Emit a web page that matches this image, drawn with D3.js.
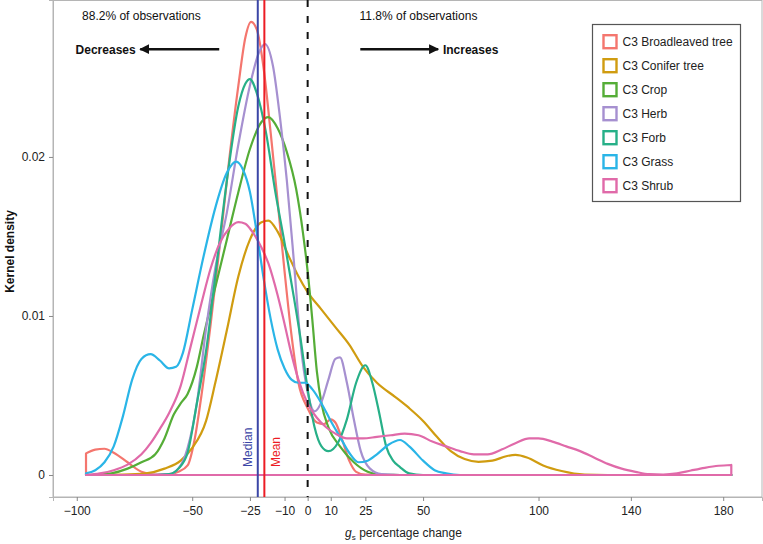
<!DOCTYPE html>
<html><head><meta charset="utf-8">
<script src="https://cdn.jsdelivr.net/npm/d3@7"></script>
<style>
html,body{margin:0;padding:0;background:#fff;}
svg{display:block;font-family:"Liberation Sans",Arial,Helvetica,sans-serif;}
</style></head>
<body>
<svg id="chart" width="763" height="544"></svg>
<script>
// ---------- data ----------
const categories = ["C3 Broadleaved tree","C3 Conifer tree","C3 Crop","C3 Herb","C3 Forb","C3 Grass","C3 Shrub"];
const colors = ["#F4766E","#D09C10","#55AD37","#A690D0","#27B088","#2AB5E7","#E06AA9"];

const broadleaved = [[-96,0.00136],[-92,0.0016],[-88,0.00165],[-84,0.0014],[-78,0.0008],[-72,0.0002],[-66,0.00003],[-60,0.00005],[-56,0.0002],[-52,0.0006],[-49,0.0022],[-46,0.005],[-42,0.0095],[-38,0.0145],[-34,0.0198],[-30,0.0245],[-27,0.0275],[-24.5,0.0285],[-22,0.0280],[-19,0.0255],[-16,0.0215],[-13,0.0172],[-10,0.0128],[-7,0.0088],[-4,0.0058],[0,0.0042],[4,0.0033],[7,0.0032],[10,0.0035],[12,0.0033],[15,0.0022],[18,0.0009],[21,0.0002],[25,0.00002],[35,0],[183.5,0]];
const conifer = [[-96,0],[-80,0.00002],[-70,0.0001],[-62,0.0004],[-55,0.0009],[-50,0.0017],[-44,0.0034],[-40,0.0058],[-35,0.0091],[-30,0.0125],[-25,0.0148],[-20,0.0159],[-17,0.016],[-13,0.0153],[-8,0.0137],[-4,0.0125],[0,0.0115],[6,0.0104],[12,0.0093],[18,0.0082],[24,0.0068],[30,0.0058],[38,0.0049],[44,0.0042],[50,0.0034],[56,0.0024],[62,0.0015],[68,0.001],[74,0.00083],[80,0.0009],[86,0.00118],[90,0.00126],[95,0.0011],[102,0.0006],[110,0.00025],[120,0.00003],[130,0],[183.5,0]];
const crop = [[-96,0],[-90,0.00003],[-85,0.0001],[-78,0.0004],[-72,0.0008],[-66,0.0013],[-62,0.0023],[-58,0.0038],[-55,0.0045],[-52,0.0051],[-48,0.0068],[-45,0.0088],[-40,0.0118],[-35,0.0148],[-30,0.0178],[-25,0.0205],[-20,0.0222],[-17,0.0225],[-13,0.0218],[-9,0.0203],[-5,0.018],[-2,0.0152],[0,0.0128],[2,0.0098],[4,0.0065],[6,0.0045],[9,0.003],[14,0.0018],[20,0.0008],[26,0.0002],[32,0.00001],[40,0],[183.5,0]];
const herb = [[-96,0],[-70,0],[-60,0.00005],[-56,0.0004],[-52,0.0017],[-48,0.0045],[-44,0.0092],[-40,0.013],[-35,0.0165],[-30,0.0208],[-25,0.0245],[-21,0.0266],[-18.5,0.0271],[-15,0.0257],[-12,0.0225],[-9,0.0185],[-6,0.0135],[-3,0.0082],[0,0.0052],[3,0.004],[6,0.0046],[9,0.006],[12,0.0073],[14,0.0074],[17,0.0058],[20,0.0035],[23,0.0015],[27,0.0004],[32,0.00005],[40,0],[183.5,0]];
const forb = [[-96,0],[-65,0],[-60,0.00005],[-56,0.0004],[-52,0.0014],[-48,0.0045],[-44,0.0078],[-40,0.0125],[-35,0.0185],[-30,0.0232],[-27,0.0246],[-25,0.0249],[-22,0.024],[-18,0.0215],[-14,0.0178],[-10,0.0146],[-6,0.0112],[-3,0.0085],[0,0.0054],[3,0.003],[6,0.0018],[9,0.0015],[13,0.002],[17,0.0035],[21,0.0058],[25,0.0069],[28,0.0058],[31,0.0039],[34,0.0018],[37,0.0009],[40,0.0005],[44,0.0001],[50,0],[183.5,0]];
const grass = [[-96,0.0001],[-92,0.0003],[-88,0.0008],[-84,0.0018],[-80,0.0037],[-76,0.006],[-72,0.0073],[-68,0.0076],[-64,0.0072],[-60,0.0067],[-57,0.0068],[-54,0.0077],[-50,0.0104],[-45,0.0138],[-40,0.0168],[-35,0.019],[-31,0.0197],[-28,0.0192],[-25,0.0178],[-22,0.0152],[-19,0.0123],[-16,0.0098],[-13,0.0079],[-10,0.0067],[-7,0.006],[-4,0.0058],[-1,0.0058],[2,0.0054],[6,0.0045],[10,0.0034],[14,0.0024],[18,0.0014],[22,0.0008],[26,0.0009],[30,0.0013],[35,0.0019],[40,0.0022],[44,0.0018],[50,0.0009],[55,0.0003],[60,0.0001],[66,0],[183.5,0]];
const shrub = [[-96,0],[-90,0.0001],[-84,0.0003],[-78,0.00065],[-72,0.0013],[-68,0.002],[-64,0.0029],[-60,0.0039],[-55,0.0056],[-51,0.0079],[-46,0.0108],[-42,0.013],[-38,0.0146],[-34,0.0155],[-30,0.0159],[-27,0.0158],[-24,0.0153],[-20,0.0143],[-17,0.0133],[-13,0.0113],[-10,0.0095],[-7,0.0076],[-4,0.006],[0,0.0045],[4,0.0036],[8,0.003],[12,0.0026],[17,0.0023],[24,0.0023],[30,0.0024],[36,0.0025],[42,0.0026],[48,0.0025],[54,0.0021],[60,0.0018],[66,0.0015],[72,0.0013],[78,0.0013],[84,0.0016],[90,0.002],[96,0.0023],[100,0.0023],[106,0.0021],[112,0.0018],[118,0.0015],[124,0.0011],[130,0.0007],[136,0.0004],[142,0.0002],[148,0.00005],[154,0.00003],[160,0.0001],[166,0.00028],[172,0.00045],[178,0.00058],[183.5,0.00063]];
const seriesData = [broadleaved, conifer, crop, herb, forb, grass, shrub];

const xTicks = [-100,-50,-25,-10,0,10,25,50,100,140,180];
const yTicks = [0,0.01,0.02];
const medianValue = -21.6;
const meanValue = -18.75;
const leftShare = "88.2% of observations";
const rightShare = "11.8% of observations";

// ---------- layout ----------
const svg = d3.select("#chart");
const P = {l:53, r:762, t:0, b:497};
const x = d3.scaleLinear().domain([-110.3, 196.8]).range([P.l, P.r]);
const y = d3.scaleLinear().domain([-0.001384, 0.02987]).range([P.b, P.t]);

// panel border
svg.append("rect").attr("x",P.l).attr("y",P.t+0.5).attr("width",P.r-P.l).attr("height",P.b-P.t-0.5)
  .attr("fill","none").attr("stroke","#b5b5b5").attr("stroke-width",1);

// axes
const fmtX = d => d < 0 ? "\u2212" + Math.abs(d) : String(d);
const xAxis = svg.append("g").attr("transform",`translate(0,${P.b})`)
  .call(d3.axisBottom(x).tickValues(xTicks).tickFormat(fmtX).tickSize(4).tickPadding(5));
const yAxis = svg.append("g").attr("transform",`translate(${P.l},0)`)
  .call(d3.axisLeft(y).tickValues(yTicks).tickFormat(d => d===0 ? "0" : d3.format(".2f")(d)).tickSize(4).tickPadding(4));
[xAxis,yAxis].forEach(g=>{
  g.select(".domain").attr("stroke","#b5b5b5");
  g.selectAll(".tick line").attr("stroke","#888");
  g.selectAll(".tick text").attr("fill","#222").style("font-size","12px").style("font-family","'Liberation Sans',Arial,sans-serif");
});

// density outlines
const area = d3.area().x(d=>x(d[0])).y0(y(0)).y1(d=>y(d[1])).curve(d3.curveMonotoneX);
seriesData.forEach((s,i)=>{
  svg.append("path").attr("d",area(s)).attr("fill","none").attr("stroke",colors[i])
    .attr("stroke-width",2.2).attr("stroke-linejoin","round");
});

// median / mean / zero lines
svg.append("line").attr("x1",x(medianValue)).attr("x2",x(medianValue)).attr("y1",P.t).attr("y2",P.b)
  .attr("stroke","#3B46A6").attr("stroke-width",2);
svg.append("line").attr("x1",x(meanValue)).attr("x2",x(meanValue)).attr("y1",P.t).attr("y2",P.b)
  .attr("stroke","#EC1C24").attr("stroke-width",2);
svg.append("line").attr("x1",x(0)).attr("x2",x(0)).attr("y1",P.t).attr("y2",P.b)
  .attr("stroke","#111").attr("stroke-width",2).attr("stroke-dasharray","7,9");

svg.append("text").attr("transform",`translate(${x(medianValue)-5.5},${y(0)-8}) rotate(-90)`)
  .attr("fill","#3B46A6").style("font-size","12px").text("Median");
svg.append("text").attr("transform",`translate(${x(meanValue)+16},${y(0)-8}) rotate(-90)`)
  .attr("fill","#EC1C24").style("font-size","12px").text("Mean");

// annotations
svg.append("text").attr("x",x(-72)).attr("y",y(0.02862)).attr("text-anchor","middle")
  .style("font-size","12px").attr("fill","#111").text(leftShare);
svg.append("text").attr("x",x(48)).attr("y",y(0.02862)).attr("text-anchor","middle")
  .style("font-size","12px").attr("fill","#111").text(rightShare);
svg.append("text").attr("x",x(-87.5)).attr("y",y(0.02648)).attr("text-anchor","middle")
  .style("font-size","12px").style("font-weight","bold").attr("fill","#111").text("Decreases");
svg.append("text").attr("x",x(70.6)).attr("y",y(0.02648)).attr("text-anchor","middle")
  .style("font-size","12px").style("font-weight","bold").attr("fill","#111").text("Increases");

const defs = svg.append("defs");
defs.append("marker").attr("id","ah").attr("viewBox","0 0 10 10").attr("refX",9).attr("refY",5)
  .attr("markerWidth",4).attr("markerHeight",4).attr("orient","auto-start-reverse").attr("markerUnits","strokeWidth")
  .append("path").attr("d","M0,0 L10,5 L0,10 z").attr("fill","#111");
const ay = y(0.02678);
svg.append("line").attr("x1",x(-38.3)).attr("x2",x(-72.5)).attr("y1",ay).attr("y2",ay)
  .attr("stroke","#111").attr("stroke-width",2.5).attr("marker-end","url(#ah)");
svg.append("line").attr("x1",x(22.8)).attr("x2",x(56.5)).attr("y1",ay).attr("y2",ay)
  .attr("stroke","#111").attr("stroke-width",2.5).attr("marker-end","url(#ah)");

// axis titles
const xt = svg.append("text").attr("x",403.5).attr("y",537).attr("text-anchor","middle")
  .style("font-size","12px").attr("fill","#222");
xt.append("tspan").style("font-style","italic").text("g");
xt.append("tspan").attr("dy",3).style("font-size","8px").text("s");
xt.append("tspan").attr("dy",-3).text(" percentage change");

svg.append("text").attr("transform",`translate(14,${(P.t+P.b)/2+3}) rotate(-90)`).attr("text-anchor","middle")
  .style("font-size","12px").style("font-weight","bold").attr("fill","#111").text("Kernel density");

// legend
const lg = svg.append("g");
lg.append("rect").attr("x",592.5).attr("y",24.5).attr("width",148).attr("height",177)
  .attr("fill","#fff").attr("stroke","#555").attr("stroke-width",1.2);
categories.forEach((c,i)=>{
  const cy = 41.7 + i*24;
  lg.append("rect").attr("x",603.5).attr("y",cy-6.5).attr("width",13).attr("height",13)
    .attr("fill","#fff").attr("stroke",colors[i]).attr("stroke-width",2.4);
  lg.append("text").attr("x",622.5).attr("y",cy+4.3).style("font-size","12px").attr("fill","#222").text(c);
});
</script>
</body></html>
